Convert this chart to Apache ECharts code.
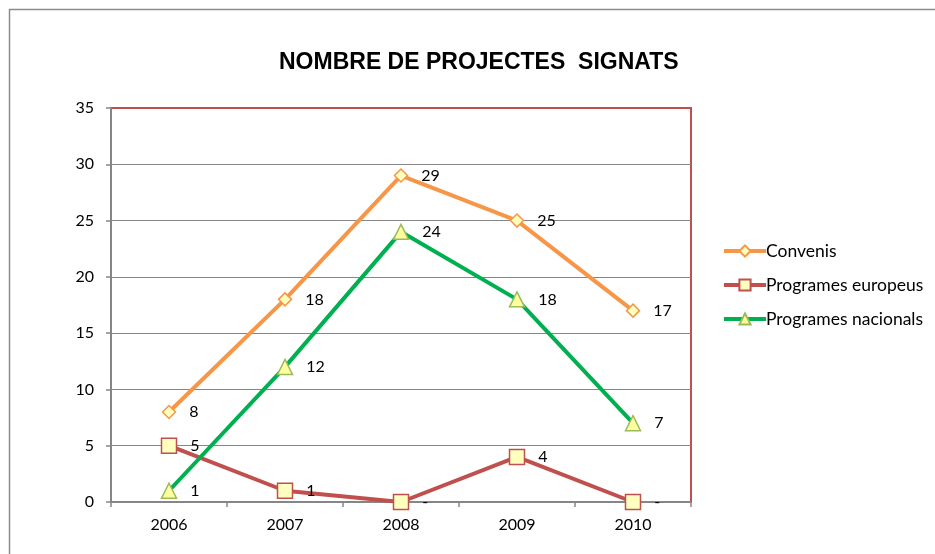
<!DOCTYPE html>
<html>
<head>
<meta charset="utf-8">
<script src="https://cdn.jsdelivr.net/npm/echarts@6/dist/echarts.min.js"></script>
<style>
  html, body { margin: 0; padding: 0; background: #fff; }
  #chart { width: 935px; height: 554px; }
</style>
</head>
<body>
<div id="chart"></div>
<script>
  // dades llegides del gràfic
  const anys = ['2006', '2007', '2008', '2009', '2010'];
  const convenis = [8, 18, 29, 25, 17];
  const europeus = [5, 1, 0, 4, 0];
  const nacionals = [1, 12, 24, 18, 7];
  const yTicks = [0, 5, 10, 15, 20, 25, 30, 35];

  const labelFont = 'Lato, "Open Sans", sans-serif';
  const chart = echarts.init(document.getElementById('chart'));

  function serie(name, data, color, symbol, size, border, fill) {
    return {
      name: name,
      type: 'line',
      data: data,
      symbol: symbol,
      symbolSize: size,
      lineStyle: { color: color, width: 4 },
      itemStyle: { color: fill, borderColor: border, borderWidth: 1.5 },
      label: {
        show: true,
        position: 'right',
        distance: 13,
        fontSize: 16,
        fontFamily: labelFont,
        color: '#000',
        formatter: p => (p.value === 0 ? '-' : p.value)
      },
      emphasis: { disabled: true },
      animation: false
    };
  }

  const option = {
    backgroundColor: '#fff',
    graphic: [{
      type: 'rect',
      shape: { x: 9.5, y: 9.5, width: 1000, height: 1000 },
      style: { fill: 'none', stroke: '#8c8c8c', lineWidth: 1.5 },
      silent: true
    }],
    title: {
      text: 'NOMBRE DE PROJECTES  SIGNATS',
      left: 274,
      top: 46,
      textStyle: {
        fontFamily: '"Liberation Sans", Arial, sans-serif',
        fontWeight: 'bold',
        fontSize: 23,
        color: '#000'
      }
    },
    legend: {
      orient: 'vertical',
      left: 722,
      top: 242,
      padding: 0,
      itemWidth: 42,
      itemHeight: 14,
      itemGap: 16,
      lineStyle: { width: 4 },
      textStyle: { fontSize: 17.5, fontFamily: labelFont, color: '#000', padding: [0, 0, 0, -5] },
      data: ['Convenis', 'Programes europeus', 'Programes nacionals']
    },
    grid: {
      left: 111,
      right: 244,
      top: 108,
      bottom: 52,
      show: true,
      borderColor: '#c0504d',
      borderWidth: 2
    },
    xAxis: {
      type: 'category',
      data: anys,
      boundaryGap: true,
      axisLine: { lineStyle: { color: '#868686', width: 2 } },
      axisTick: { show: true, length: 5, lineStyle: { color: '#868686', width: 1.5 } },
      axisLabel: { fontSize: 16, fontFamily: labelFont, color: '#000', margin: 15 }
    },
    yAxis: {
      type: 'value',
      min: yTicks[0],
      max: yTicks[yTicks.length - 1],
      interval: 5,
      axisLine: { show: true, lineStyle: { color: '#868686', width: 2 } },
      axisTick: { show: true, length: 5, lineStyle: { color: '#868686', width: 1.5 } },
      axisLabel: { fontSize: 16, fontFamily: labelFont, color: '#000', margin: 17 },
      splitLine: { show: true, showMaxLine: false, lineStyle: { color: '#868686', width: 1 } }
    },
    series: [
      serie('Convenis', convenis, '#f79646', 'diamond', 13, '#f79646', '#ffffc0'),
      serie('Programes europeus', europeus, '#c0504d', 'rect', 15, '#c0504d', '#ffffc0'),
      serie('Programes nacionals', nacionals, '#00b050', 'triangle', 15, '#9bbb59', '#ffffa0')
    ],
    animation: false
  };

  chart.setOption(option);
</script>
</body>
</html>
